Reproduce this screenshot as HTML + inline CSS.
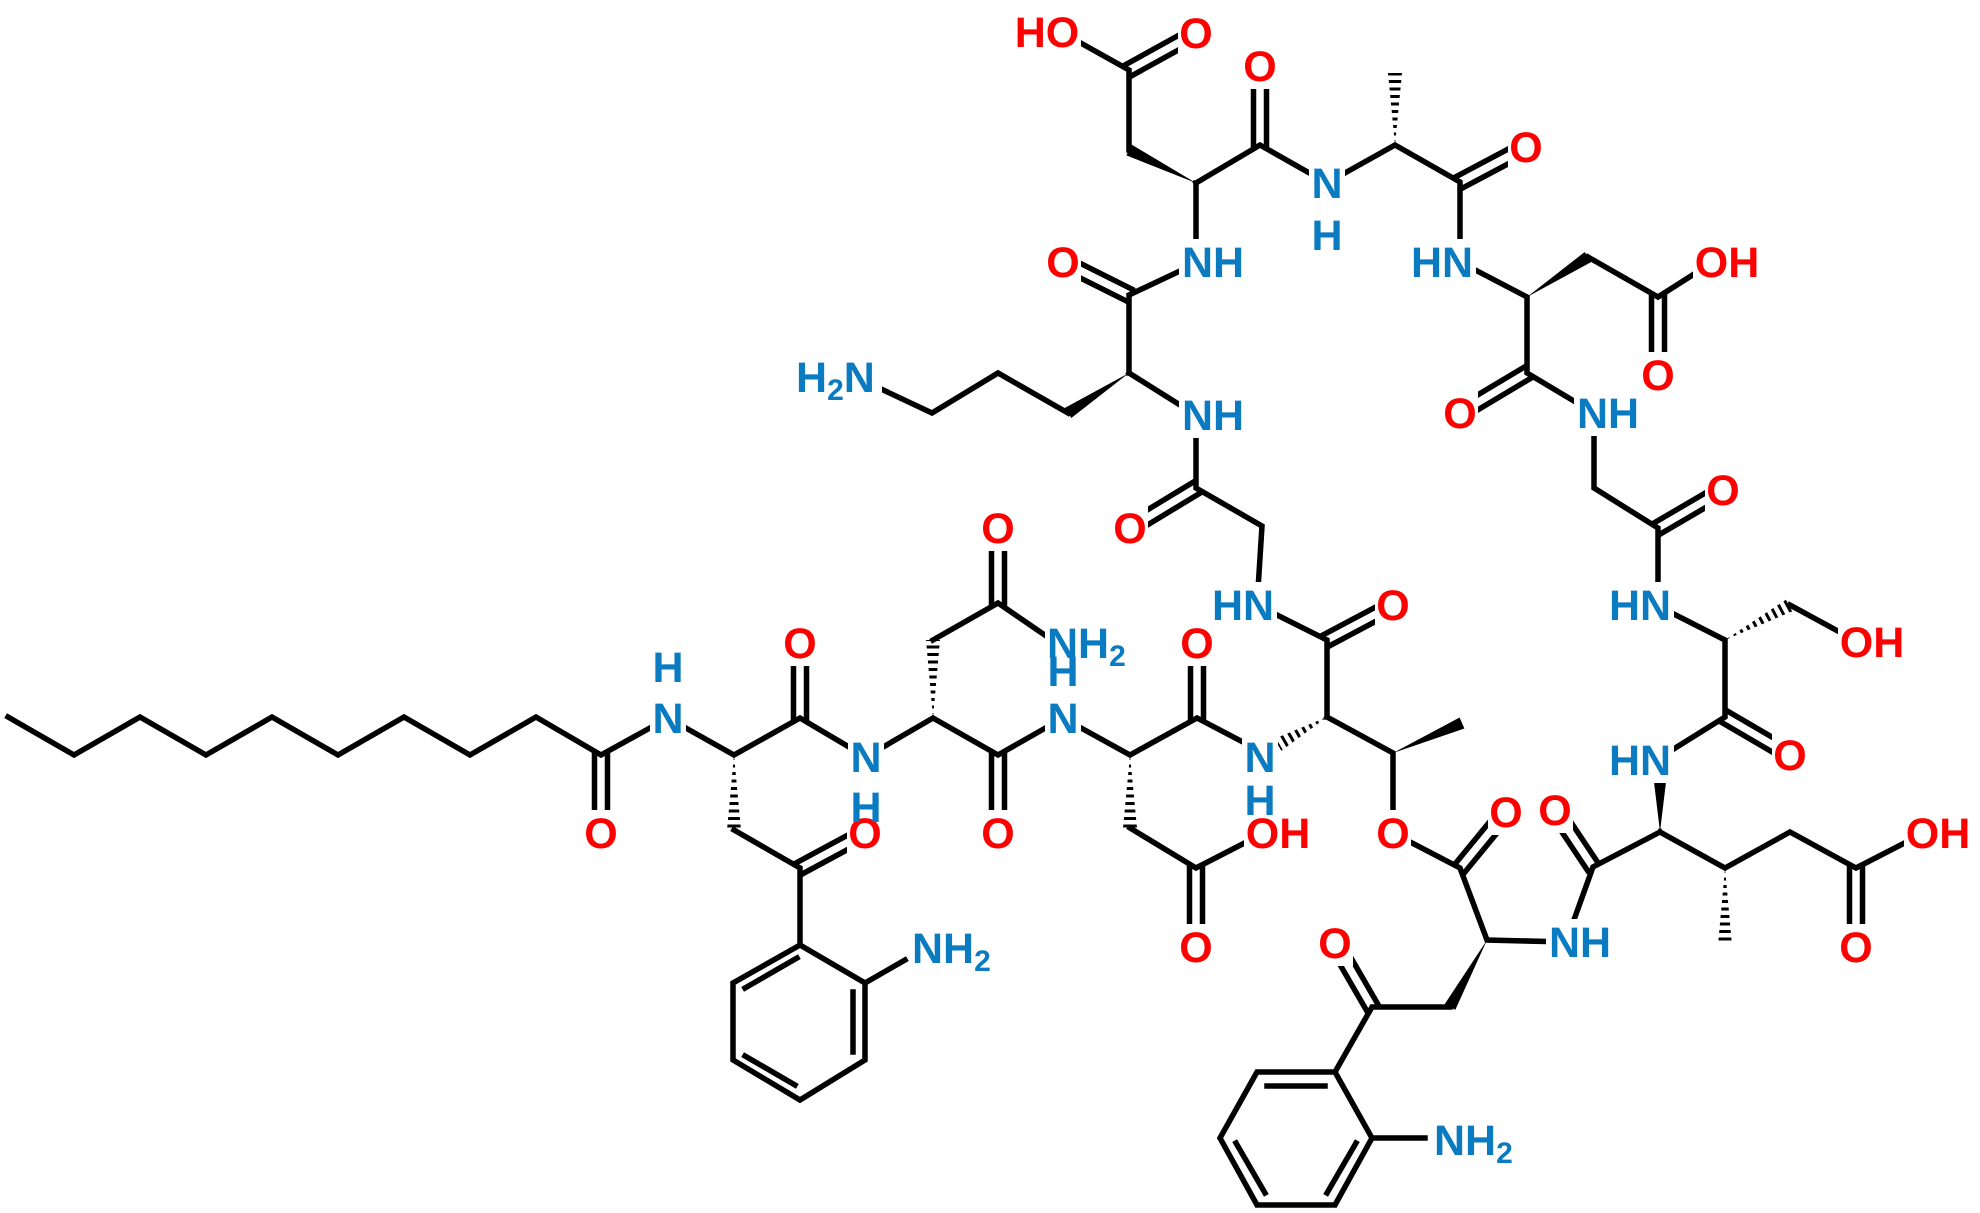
<!DOCTYPE html>
<html><head><meta charset="utf-8"><style>
html,body{margin:0;padding:0;background:#fff;}
svg{display:block;}
text{font-family:"Liberation Sans",Arial,sans-serif;font-weight:bold;font-size:43px;}
.o{fill:#f00}.n{fill:#0a7bc0}
</style></head><body>
<svg width="1980" height="1213" viewBox="0 0 1980 1213" xmlns="http://www.w3.org/2000/svg">
<defs>
<clipPath id="h1"><polygon points="734,755 741,830 727,830"/></clipPath>
<clipPath id="h2"><polygon points="933,718 940,640 926,640"/></clipPath>
<clipPath id="h3"><polygon points="1130,755 1137,828 1123,828"/></clipPath>
<clipPath id="h4"><polygon points="1327,717 1274,739 1281,751"/></clipPath>
<clipPath id="h5"><polygon points="1395,145 1402,73 1388,73"/></clipPath>
<clipPath id="h6"><polygon points="1725,868 1732,945 1718,945"/></clipPath>
<clipPath id="h7"><polygon points="1725,640 1793,611 1787,599"/></clipPath>
</defs>
<g stroke="#000" stroke-width="5.5" fill="none" stroke-linecap="square" stroke-linejoin="miter">
<polyline points="8,717 74,755 140,717 206,755 272,717 338,755 404,717 470,755 536,717 601,755 668,718 734,755 800,718 866,757 933,718 998,755 1063,718 1130,755 1197,718 1262,752"/>
<path d="M734,830L800,868L800,945 M865,983L905,960
M933,640L998,603L1052,640
M1130,828L1196,868L1264,833
M1327,717L1327,640L1257,605L1262,526L1196,488L1196,415L1129,373
M1068,413L998,373L932,413L862,380
M1129,373L1129,295L1199,262
M1196,262L1196,183 M1129,150L1129,70L1061,32
M1196,183L1260,145L1327,183L1395,145L1460,182L1460,262L1527,297L1527,373L1594,413L1594,488L1658,528L1658,605
M1588,257L1658,297L1713,262
M1656,605L1725,640L1725,717L1656,760
M1790,605L1858,642
M1660,832L1593,867L1566,942L1487,940L1460,868L1393,833L1393,753L1327,717
M1660,832L1725,868L1790,832L1856,868L1924,833
M1450,1007L1372,1007L1335,1072 M1372,1138L1425,1138"/>
<polygon points="800,945 865,983 865,1060 800,1100 733,1060 733,983"/>
<path d="M853,992L853,1052 M795,1085L745,1056 M745,988L797,958"/>
<polygon points="1335,1072 1257,1072 1220,1138 1257,1205 1335,1205 1372,1138"/>
<path d="M1267,1086L1325,1086 M1236,1143L1265,1193 M1356,1143L1327,1193"/>
<path d="M594.5,755L594.5,833 M607.5,755L607.5,833
M803,873.6L868,838.6 M797,862.4L862,827.4
M793.5,718L793.5,643 M806.5,718L806.5,643
M991.5,603L991.5,528 M1004.5,603L1004.5,528
M991.5,755L991.5,833 M1004.5,755L1004.5,833
M1189.5,868L1189.5,947 M1202.5,868L1202.5,947
M1190.5,718L1190.5,643 M1203.5,718L1203.5,643
M1330,645.6L1396,610.6 M1324,634.4L1390,599.4
M1199.4,493.5L1133.4,533.5 M1192.6,482.5L1126.6,522.5
M1126,300.8L1060,267.8 M1132,289.2L1066,256.2
M1132,75.6L1199,38.6 M1126,64.4L1193,27.4
M1253.5,145L1253.5,66 M1266.5,145L1266.5,66
M1463,187.8L1529,152.8 M1457,176.2L1523,141.2
M1651.5,297L1651.5,375 M1664.5,297L1664.5,375
M1530.4,378.5L1463.4,418.5 M1523.6,367.5L1456.6,407.5
M1661,533.6L1726,495.6 M1655,522.4L1720,484.4
M1722,722.6L1787,760.6 M1728,711.4L1793,749.4
M1598.4,863.4L1560.4,806.4 M1587.6,870.6L1549.6,813.6
M1849.5,868L1849.5,947 M1862.5,868L1862.5,947
M1465,872L1511,816 M1455,864L1501,808
M1377.6,1003.8L1340.6,939.8 M1366.4,1010.2L1329.4,946.2"/>
</g>
<g fill="#000">
<polygon points="1196,183 1131.6,144.6 1126.4,155.4"/>
<polygon points="1129,373 1064.7,408 1071.3,418"/>
<polygon points="1527,297 1591.3,262 1584.7,252"/>
<polygon points="1487,940 1455.3,1009.9 1444.7,1004.1"/>
<polygon points="1393,753 1464.4,728.5 1459.6,717.5"/>
<polygon points="1660,832 1666,782 1654,782"/>
</g>
<g stroke="#000" stroke-width="18" stroke-dasharray="3 4.5" fill="none">
<line x1="734" y1="757" x2="734" y2="830" clip-path="url(#h1)"/>
<line x1="933" y1="716" x2="933" y2="640" clip-path="url(#h2)"/>
<line x1="1130" y1="757" x2="1130" y2="828" clip-path="url(#h3)"/>
<line x1="1325" y1="718" x2="1278" y2="745" clip-path="url(#h4)"/>
<line x1="1395" y1="143" x2="1395" y2="73" clip-path="url(#h5)"/>
<line x1="1725" y1="870" x2="1725" y2="945" clip-path="url(#h6)"/>
<line x1="1727" y1="639" x2="1790" y2="605" clip-path="url(#h7)"/>
</g>
<g fill="#fff">
<rect x="583" y="810" width="36" height="46"/><rect x="782" y="620" width="36" height="46"/>
<rect x="847" y="810" width="36" height="46"/><rect x="980" y="505" width="36" height="46"/>
<rect x="980" y="810" width="36" height="46"/><rect x="1178" y="924" width="36" height="46"/>
<rect x="1179" y="620" width="36" height="46"/><rect x="1112" y="505" width="36" height="46"/>
<rect x="1375" y="582" width="36" height="46"/><rect x="1375" y="810" width="36" height="46"/>
<rect x="1488" y="789" width="36" height="46"/><rect x="1317" y="920" width="36" height="46"/>
<rect x="1537" y="787" width="36" height="46"/><rect x="1772" y="732" width="36" height="46"/>
<rect x="1838" y="924" width="36" height="46"/><rect x="1705" y="467" width="36" height="46"/>
<rect x="1640" y="352" width="36" height="46"/><rect x="1442" y="390" width="36" height="46"/>
<rect x="1508" y="124" width="36" height="46"/><rect x="1242" y="43" width="36" height="46"/>
<rect x="1178" y="10" width="36" height="46"/><rect x="1045" y="239" width="36" height="46"/>
<rect x="1244" y="810" width="68" height="46"/><rect x="1904" y="810" width="68" height="46"/>
<rect x="1838" y="619" width="68" height="46"/><rect x="1693" y="239" width="68" height="46"/>
<rect x="1013" y="9" width="68" height="46"/>
<rect x="650" y="695" width="36" height="46"/><rect x="848" y="734" width="36" height="46"/>
<rect x="1045" y="695" width="36" height="46"/><rect x="1242" y="734" width="36" height="46"/>
<rect x="1309" y="160" width="36" height="46"/>
<rect x="1179" y="239" width="68" height="46"/><rect x="1179" y="392" width="68" height="46"/>
<rect x="1574" y="390" width="68" height="46"/><rect x="1546" y="919" width="68" height="46"/>
<rect x="1408" y="239" width="68" height="46"/><rect x="1209" y="582" width="68" height="46"/>
<rect x="1606" y="582" width="68" height="46"/><rect x="1606" y="737" width="68" height="46"/>
<rect x="1045" y="620" width="86" height="48"/><rect x="910" y="924" width="86" height="48"/>
<rect x="1432" y="1116" width="86" height="48"/><rect x="794" y="354" width="88" height="48"/>
</g>
<g text-anchor="middle">
<g class="o">
<text x="601" y="848">O</text><text x="800" y="658">O</text><text x="865" y="848">O</text>
<text x="998" y="543">O</text><text x="998" y="848">O</text><text x="1196" y="962">O</text>
<text x="1197" y="658">O</text><text x="1130" y="543">O</text><text x="1393" y="620">O</text>
<text x="1393" y="848">O</text><text x="1506" y="827">O</text><text x="1335" y="958">O</text>
<text x="1555" y="825">O</text><text x="1790" y="770">O</text><text x="1856" y="962">O</text>
<text x="1723" y="505">O</text><text x="1658" y="390">O</text><text x="1460" y="428">O</text>
<text x="1526" y="162">O</text><text x="1260" y="81">O</text><text x="1196" y="48">O</text>
<text x="1063" y="277">O</text>
<text x="1278" y="848">OH</text><text x="1938" y="848">OH</text><text x="1872" y="657">OH</text>
<text x="1727" y="277">OH</text><text x="1047" y="47">HO</text>
</g>
<g class="n">
<text x="668" y="733">N</text><text x="668" y="682">H</text>
<text x="866" y="772">N</text><text x="866" y="822">H</text>
<text x="1063" y="733">N</text><text x="1063" y="686">H</text>
<text x="1260" y="772">N</text><text x="1260" y="815">H</text>
<text x="1327" y="198">N</text><text x="1327" y="250">H</text>
<text x="1213" y="277">NH</text><text x="1213" y="430">NH</text><text x="1608" y="428">NH</text>
<text x="1580" y="957">NH</text>
<text x="1442" y="277">HN</text><text x="1243" y="620">HN</text><text x="1640" y="620">HN</text>
<text x="1640" y="775">HN</text>
</g>
</g>
<g class="n">
<text x="1047" y="658">NH<tspan font-size="30" dy="8">2</tspan></text>
<text x="912" y="963">NH<tspan font-size="30" dy="8">2</tspan></text>
<text x="1434" y="1155">NH<tspan font-size="30" dy="8">2</tspan></text>
<text x="796" y="392">H<tspan font-size="30" dy="8">2</tspan><tspan dy="-8">N</tspan></text>
</g>
</svg>
</body></html>
